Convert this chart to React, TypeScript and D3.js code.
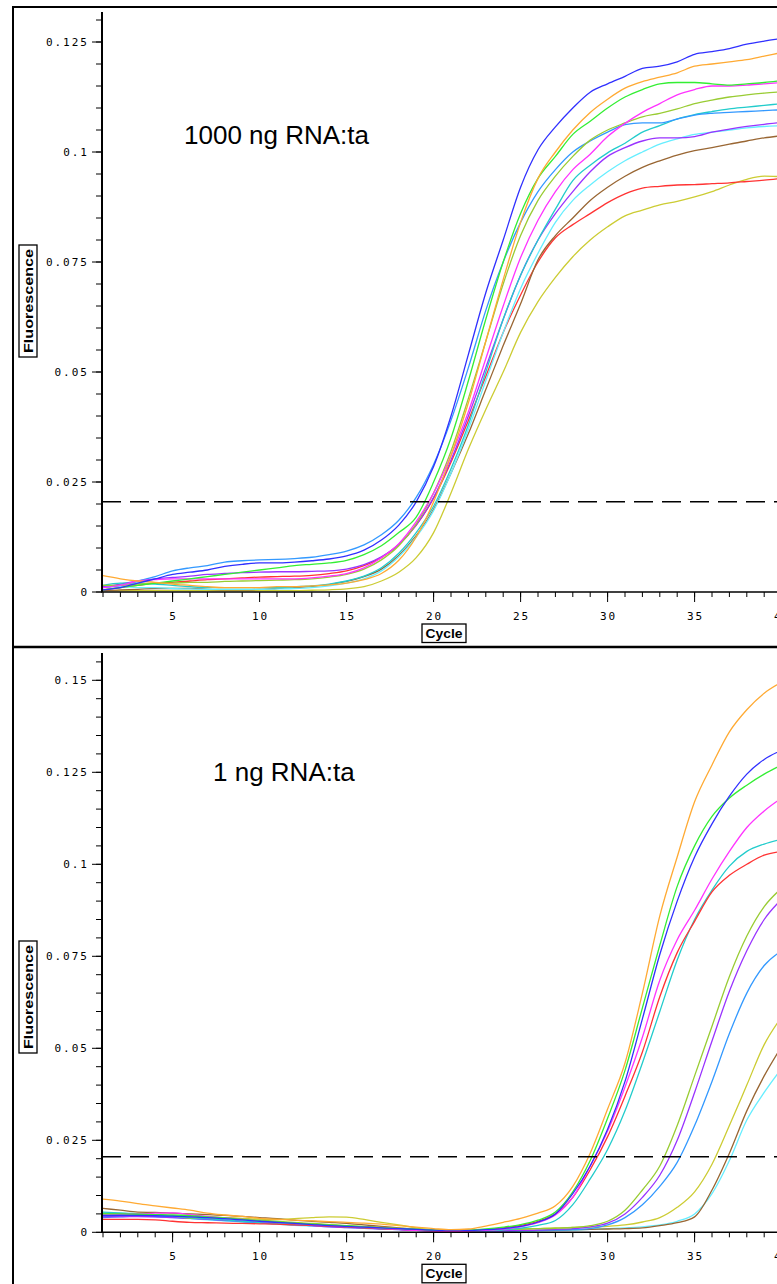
import React from 'react';
import * as d3 from 'd3';

// ---------- DATA ----------
const cycles = [1,2,3,4,5,6,7,8,9,10,11,12,13,14,15,16,17,18,19,20,21,22,23,24,25,26,27,28,29,30,31,32,33,34,35,36,37,38,39,40];

const threshold = 0.0205;

const xMajorTicks = [5,10,15,20,25,30,35,40];
const xTickLabels = ['5','10','15','20','25','30','35','40'];

const topYTicks = [0,0.025,0.05,0.075,0.1,0.125];
const topYLabels = ['0','0.025','0.05','0.075','0.1','0.125'];
const bottomYTicks = [0,0.025,0.05,0.075,0.1,0.125,0.15];
const bottomYLabels = ['0','0.025','0.05','0.075','0.1','0.125','0.15'];

const topTitle = '1000 ng RNA:ta';
const bottomTitle = '1 ng RNA:ta';

// top panel (1000 ng)
const topBlue = [0.0005,0.001,0.002,0.003,0.004,0.0045,0.005,0.0058,0.0063,0.0066,0.0066,0.0068,0.0071,0.0075,0.0082,0.0095,0.0118,0.0152,0.0205,0.0285,0.04,0.054,0.068,0.08,0.092,0.1005,0.1057,0.11,0.1136,0.1155,0.1172,0.119,0.1195,0.1205,0.1222,0.1228,0.1235,0.1245,0.1252,0.1258];
const topLightBlue = [0.001,0.0015,0.0025,0.0035,0.0048,0.0055,0.006,0.0068,0.0071,0.0073,0.0074,0.0076,0.0079,0.0085,0.0093,0.0107,0.013,0.0163,0.0215,0.029,0.039,0.051,0.064,0.075,0.084,0.091,0.096,0.1,0.1025,0.1045,0.1062,0.1066,0.1066,0.1075,0.1084,0.1088,0.109,0.1092,0.1094,0.1096];
const topOrange = [0.0037,0.003,0.0025,0.0022,0.0018,0.0015,0.0012,0.001,0.001,0.001,0.0012,0.0012,0.0014,0.0016,0.002,0.0028,0.0042,0.0072,0.0125,0.0205,0.031,0.043,0.057,0.071,0.084,0.094,0.1,0.105,0.109,0.112,0.1145,0.116,0.117,0.118,0.1195,0.12,0.1205,0.121,0.1218,0.1226];
const topGreen = [0.0005,0.001,0.0015,0.002,0.0025,0.003,0.0035,0.004,0.0045,0.005,0.0055,0.006,0.0063,0.0066,0.0072,0.0085,0.0105,0.0135,0.017,0.025,0.035,0.048,0.062,0.075,0.086,0.094,0.099,0.104,0.107,0.11,0.1125,0.1142,0.1155,0.1158,0.1158,0.1155,0.1152,0.1155,0.1158,0.1162];
const topMagenta = [0.001,0.0015,0.0025,0.0028,0.003,0.003,0.003,0.003,0.003,0.003,0.003,0.003,0.0032,0.0036,0.0042,0.0055,0.0078,0.011,0.016,0.0225,0.031,0.041,0.053,0.065,0.076,0.0845,0.091,0.096,0.0995,0.1035,0.1065,0.109,0.111,0.113,0.1142,0.115,0.115,0.1152,0.1155,0.1158];
const topYellowGreen = [0.0015,0.0015,0.0018,0.002,0.002,0.0022,0.0022,0.0024,0.0025,0.0026,0.0027,0.0028,0.003,0.0034,0.004,0.0052,0.0073,0.0105,0.0155,0.0225,0.032,0.044,0.057,0.07,0.081,0.089,0.0945,0.099,0.1027,0.105,0.1066,0.108,0.1088,0.1098,0.111,0.1118,0.1125,0.113,0.1134,0.1137];
const topCyan = [0.0015,0.002,0.002,0.0018,0.0015,0.0012,0.001,0.001,0.001,0.001,0.001,0.0012,0.0014,0.0018,0.0025,0.0036,0.0055,0.0088,0.0135,0.0195,0.028,0.038,0.05,0.062,0.072,0.08,0.087,0.0935,0.097,0.0998,0.102,0.1045,0.106,0.1075,0.1085,0.1092,0.1098,0.1102,0.1106,0.111];
const topPurple = [0.0012,0.0018,0.0025,0.003,0.0033,0.0036,0.004,0.0042,0.0044,0.0045,0.0046,0.0046,0.0047,0.0048,0.0052,0.0062,0.008,0.0108,0.0152,0.0215,0.03,0.04,0.051,0.062,0.072,0.08,0.086,0.091,0.0955,0.099,0.101,0.1025,0.1032,0.1032,0.1035,0.1045,0.1052,0.1058,0.1063,0.1067];
const topLightCyan = [0.0012,0.0012,0.001,0.001,0.0008,0.0007,0.0006,0.0006,0.0006,0.0006,0.0007,0.0008,0.001,0.0014,0.002,0.003,0.0048,0.008,0.0125,0.0185,0.027,0.037,0.048,0.059,0.069,0.077,0.084,0.089,0.0925,0.0955,0.098,0.1,0.1018,0.103,0.104,0.1045,0.105,0.1055,0.1058,0.106];
const topBrown = [0.0003,0.0005,0.0006,0.0008,0.0008,0.0008,0.0006,0.0005,0.0005,0.0006,0.0008,0.001,0.0013,0.0017,0.0024,0.0035,0.0052,0.0083,0.0128,0.0188,0.027,0.036,0.046,0.056,0.0655,0.0755,0.081,0.085,0.089,0.092,0.0945,0.0965,0.098,0.0993,0.1003,0.101,0.1018,0.1025,0.1032,0.1037];
const topRed = [0.0005,0.001,0.0015,0.002,0.0022,0.0025,0.0028,0.003,0.0032,0.0034,0.0035,0.0036,0.0038,0.0042,0.0048,0.006,0.0078,0.0108,0.0152,0.0213,0.0295,0.039,0.049,0.059,0.0675,0.075,0.0805,0.0835,0.086,0.0885,0.0905,0.0918,0.0922,0.0925,0.0926,0.0928,0.093,0.0933,0.0936,0.094];
const topYellow = [0.0003,0.0003,0.0003,0.0003,0.0003,0.0003,0.0003,0.0003,0.0003,0.0003,0.0003,0.0003,0.0004,0.0005,0.0007,0.0012,0.0025,0.0045,0.0078,0.0135,0.0225,0.0325,0.0415,0.05,0.059,0.066,0.0715,0.0762,0.08,0.083,0.0855,0.0868,0.088,0.0888,0.0898,0.091,0.0925,0.0938,0.0945,0.0944];

// bottom panel (1 ng)
const botOrange = [0.009,0.0085,0.0078,0.0072,0.0066,0.006,0.0052,0.0047,0.0043,0.0038,0.0035,0.0033,0.0031,0.0029,0.0027,0.0025,0.0022,0.0018,0.0014,0.001,0.0007,0.0009,0.0017,0.0027,0.0038,0.0052,0.0072,0.0125,0.0215,0.0335,0.046,0.065,0.086,0.102,0.117,0.127,0.136,0.142,0.1465,0.1495];
const botBlue = [0.0045,0.0046,0.0046,0.0045,0.0044,0.0042,0.004,0.0037,0.0034,0.003,0.0027,0.0024,0.0021,0.0018,0.0016,0.0014,0.0012,0.001,0.0008,0.0006,0.0005,0.0005,0.0007,0.001,0.0016,0.0028,0.005,0.0105,0.018,0.028,0.041,0.058,0.0755,0.09,0.102,0.111,0.1185,0.1245,0.1285,0.131];
const botGreen = [0.005,0.005,0.0049,0.0048,0.0047,0.0045,0.0042,0.0039,0.0035,0.0031,0.0028,0.0025,0.0022,0.002,0.0018,0.0015,0.0012,0.001,0.0008,0.0006,0.0005,0.0006,0.0009,0.0014,0.0021,0.0033,0.0055,0.011,0.0195,0.031,0.044,0.061,0.078,0.094,0.105,0.113,0.118,0.1215,0.1245,0.127];
const botMagenta = [0.0048,0.0049,0.005,0.0052,0.0053,0.0048,0.0043,0.0039,0.0035,0.003,0.0027,0.0024,0.0021,0.0019,0.0017,0.0014,0.0011,0.0008,0.0005,0.0003,0.0002,0.0003,0.0005,0.0009,0.0015,0.0026,0.0047,0.0095,0.018,0.0275,0.0395,0.053,0.0685,0.0795,0.0875,0.096,0.1035,0.11,0.1145,0.118];
const botRed = [0.0035,0.0035,0.0035,0.0034,0.003,0.0027,0.0026,0.0025,0.0024,0.0023,0.0022,0.002,0.0019,0.0017,0.0015,0.0012,0.001,0.0008,0.0006,0.0004,0.0003,0.0004,0.0007,0.0012,0.0019,0.003,0.005,0.0095,0.017,0.026,0.037,0.049,0.064,0.076,0.0845,0.0925,0.097,0.1,0.1025,0.1035];
const botCyan = [0.0055,0.0053,0.005,0.0047,0.0044,0.004,0.0037,0.0034,0.003,0.0027,0.0025,0.0022,0.002,0.0018,0.0015,0.0012,0.001,0.0008,0.0006,0.0004,0.0003,0.0003,0.0004,0.0007,0.0011,0.0019,0.0032,0.0075,0.0145,0.0225,0.033,0.046,0.06,0.074,0.085,0.093,0.0995,0.1035,0.1055,0.1068];
const botYellowGreen = [0.0052,0.0051,0.005,0.0048,0.0045,0.0038,0.0038,0.0039,0.0036,0.0033,0.003,0.0027,0.0024,0.0021,0.0018,0.0016,0.0013,0.0011,0.0009,0.0007,0.0006,0.0006,0.0007,0.0008,0.0009,0.001,0.0011,0.0013,0.0018,0.003,0.006,0.0115,0.018,0.029,0.0425,0.056,0.0695,0.0805,0.0885,0.0935];
const botPurple = [0.0042,0.0043,0.0043,0.0042,0.004,0.0038,0.0036,0.0033,0.003,0.0027,0.0024,0.0021,0.0018,0.0015,0.0013,0.0011,0.0009,0.0007,0.0005,0.0004,0.0003,0.0003,0.0003,0.0004,0.0005,0.0006,0.0008,0.001,0.0015,0.0025,0.005,0.0095,0.0155,0.025,0.038,0.052,0.0655,0.0765,0.085,0.0905];
const botLightBlue = [0.004,0.0042,0.0044,0.0043,0.0041,0.0038,0.0035,0.0032,0.0029,0.0026,0.0023,0.002,0.0018,0.0016,0.0014,0.0012,0.001,0.0008,0.0006,0.0004,0.0003,0.0003,0.0003,0.0003,0.0004,0.0005,0.0006,0.0007,0.001,0.002,0.004,0.0075,0.0125,0.019,0.029,0.041,0.054,0.065,0.0725,0.0765];
const botYellow = [0.005,0.005,0.0048,0.0046,0.0045,0.0043,0.0042,0.004,0.0038,0.0036,0.0035,0.0037,0.004,0.0042,0.0041,0.0035,0.0027,0.002,0.0012,0.0006,0.0003,0.0003,0.0004,0.0006,0.0008,0.001,0.0012,0.0013,0.0014,0.0016,0.002,0.0028,0.004,0.0068,0.011,0.0185,0.029,0.04,0.051,0.0585];
const botBrown = [0.0065,0.006,0.0055,0.0054,0.0052,0.005,0.0048,0.0046,0.0043,0.004,0.0037,0.0033,0.003,0.0027,0.0024,0.002,0.0016,0.0012,0.0008,0.0005,0.0004,0.0004,0.0004,0.0004,0.0005,0.0005,0.0006,0.0007,0.0008,0.0009,0.001,0.0012,0.0018,0.0026,0.0042,0.0115,0.0215,0.033,0.0425,0.0505];
const botLightCyan = [0.0048,0.0047,0.0045,0.0043,0.004,0.0037,0.0034,0.0031,0.0028,0.0025,0.0022,0.0019,0.0017,0.0015,0.0013,0.0011,0.0009,0.0007,0.0005,0.0004,0.0003,0.0003,0.0003,0.0003,0.0003,0.0004,0.0005,0.0006,0.0008,0.001,0.0012,0.0015,0.002,0.003,0.005,0.0105,0.0195,0.0305,0.038,0.0445];

const C = {
  blue: '#3030ff',
  lightBlue: '#3399ff',
  orange: '#ffaa33',
  green: '#33ee33',
  magenta: '#ff33ff',
  yellowGreen: '#99cc33',
  cyan: '#22cccc',
  purple: '#9933ff',
  lightCyan: '#66eeff',
  brown: '#996633',
  red: '#ff3333',
  yellow: '#cccc33',
};

const topSeries = [
  { color: C.yellow, values: topYellow },
  { color: C.red, values: topRed },
  { color: C.brown, values: topBrown },
  { color: C.lightCyan, values: topLightCyan },
  { color: C.purple, values: topPurple },
  { color: C.cyan, values: topCyan },
  { color: C.lightBlue, values: topLightBlue },
  { color: C.yellowGreen, values: topYellowGreen },
  { color: C.magenta, values: topMagenta },
  { color: C.green, values: topGreen },
  { color: C.orange, values: topOrange },
  { color: C.blue, values: topBlue },
];

const bottomSeries = [
  { color: C.lightCyan, values: botLightCyan },
  { color: C.brown, values: botBrown },
  { color: C.yellow, values: botYellow },
  { color: C.lightBlue, values: botLightBlue },
  { color: C.purple, values: botPurple },
  { color: C.yellowGreen, values: botYellowGreen },
  { color: C.cyan, values: botCyan },
  { color: C.red, values: botRed },
  { color: C.magenta, values: botMagenta },
  { color: C.green, values: botGreen },
  { color: C.blue, values: botBlue },
  { color: C.orange, values: botOrange },
];

// ---------- LAYOUT ----------
const W = 777;
const H = 1284;
const xScale = d3.scaleLinear().domain([1, 40]).range([103, 103 + 39 * 17.4]);
const AXIS_X = 102;
const tickFont = "'DejaVu Sans Mono', monospace";
const labelFont = "'Liberation Sans', Arial, sans-serif";

type PanelProps = {
  series: { color: string; values: number[] }[];
  yMax: number;
  y0: number;
  yMaxPx: number;
  axisTop: number;
  minorTop: number;
  yTicks: number[];
  yLabels: string[];
  title: string;
  titleX: number;
  titleY: number;
  fluoCenterY: number;
  id: string;
};

function Panel(p: PanelProps) {
  const y = d3.scaleLinear().domain([0, p.yMax]).range([p.y0, p.yMaxPx]);
  const line = d3
    .line<number>()
    .x((_, i) => xScale(cycles[i]))
    .y((d) => y(d))
    .curve(d3.curveMonotoneX);
  const minorY = d3.range(0, p.minorTop + 1e-9, 0.005);
  const xMinor = cycles;
  const xAxisY = p.y0;
  return (
    <g>
      <defs>
        <clipPath id={p.id}>
          <rect x={AXIS_X} y={p.axisTop} width={W} height={p.y0 - p.axisTop + 2} />
        </clipPath>
      </defs>
      {/* curves */}
      <g clipPath={`url(#${p.id})`}>
        {p.series.map((s, i) => (
          <path key={i} d={line(s.values) || ''} fill="none" stroke={s.color} strokeWidth={1.3} />
        ))}
      </g>
      {/* threshold */}
      <line
        x1={AXIS_X}
        x2={W + 10}
        y1={y(threshold)}
        y2={y(threshold)}
        stroke="#000"
        strokeWidth={1.5}
        strokeDasharray="19,9"
      />
      {/* y axis */}
      <line x1={AXIS_X} x2={AXIS_X} y1={p.axisTop} y2={xAxisY} stroke="#000" strokeWidth={2} />
      {minorY.map((v, i) => (
        <line key={'ym' + i} x1={AXIS_X - 6} x2={AXIS_X} y1={y(v)} y2={y(v)} stroke="#000" strokeWidth={1} />
      ))}
      {p.yTicks.map((v, i) => (
        <g key={'yt' + i}>
          <line x1={AXIS_X - 10} x2={AXIS_X} y1={y(v)} y2={y(v)} stroke="#000" strokeWidth={1} />
          <text
            x={AXIS_X - 13}
            y={y(v) + 4}
            textAnchor="end"
            fontFamily={tickFont}
            fontSize={11}
            letterSpacing={2}
            fill="#000"
          >
            {p.yLabels[i]}
          </text>
        </g>
      ))}
      {/* x axis */}
      <line x1={AXIS_X - 1} x2={W + 10} y1={xAxisY} y2={xAxisY} stroke="#000" strokeWidth={1.5} />
      {xMinor.map((c, i) => (
        <line key={'xm' + i} x1={xScale(c)} x2={xScale(c)} y1={xAxisY} y2={xAxisY + 5} stroke="#000" strokeWidth={1} />
      ))}
      {xMajorTicks.map((c, i) => (
        <g key={'xt' + i}>
          <line x1={xScale(c)} x2={xScale(c)} y1={xAxisY} y2={xAxisY + 10} stroke="#000" strokeWidth={1} />
          <text
            x={xScale(c) + 1}
            y={xAxisY + 27.5}
            textAnchor="middle"
            fontFamily={tickFont}
            fontSize={11}
            letterSpacing={2}
            fill="#000"
          >
            {xTickLabels[i]}
          </text>
        </g>
      ))}
      {/* x label */}
      <rect x={422} y={xAxisY + 32} width={44} height={18.5} fill="#fff" stroke="#000" strokeWidth={1.3} />
      <text
        x={444}
        y={xAxisY + 46}
        textAnchor="middle"
        fontFamily={labelFont}
        fontWeight="bold"
        fontSize={13}
        textLength={37}
        lengthAdjust="spacingAndGlyphs"
        fill="#000"
      >
        Cycle
      </text>
      {/* y label */}
      <g transform={`translate(28, ${p.fluoCenterY}) rotate(-90)`}>
        <rect x={-56} y={-9} width={112} height={18} fill="#fff" stroke="#000" strokeWidth={1.3} />
        <text
          x={0}
          y={4.5}
          textAnchor="middle"
          fontFamily={labelFont}
          fontWeight="bold"
          fontSize={13}
          textLength={104}
          lengthAdjust="spacingAndGlyphs"
          fill="#000"
        >
          Fluorescence
        </text>
      </g>
      {/* title */}
      <text x={p.titleX} y={p.titleY} fontFamily={labelFont} fontSize={26} fill="#000">
        {p.title}
      </text>
    </g>
  );
}

export default function App() {
  return (
    <svg
      width={W}
      height={H}
      viewBox={`0 0 ${W} ${H}`}
      style={{ position: 'absolute', left: 0, top: 0, background: '#fff' }}
    >
      <rect x={0} y={0} width={W} height={H} fill="#fff" />
      <Panel
        id="clipTop"
        series={topSeries}
        yMax={0.125}
        y0={592}
        yMaxPx={42}
        axisTop={12}
        minorTop={0.13}
        yTicks={topYTicks}
        yLabels={topYLabels}
        title={topTitle}
        titleX={184}
        titleY={144}
        fluoCenterY={301}
      />
      <Panel
        id="clipBottom"
        series={bottomSeries}
        yMax={0.15}
        y0={1232.3}
        yMaxPx={680.3}
        axisTop={653}
        minorTop={0.155}
        yTicks={bottomYTicks}
        yLabels={bottomYLabels}
        title={bottomTitle}
        titleX={213}
        titleY={781}
        fluoCenterY={997}
      />
      {/* panel borders */}
      <line x1={13} x2={W + 10} y1={7} y2={7} stroke="#000" strokeWidth={2} />
      <line x1={13} x2={13} y1={6} y2={H + 10} stroke="#000" strokeWidth={2} />
      <line x1={13} x2={W + 10} y1={647} y2={647} stroke="#000" strokeWidth={2.5} />
    </svg>
  );
}
